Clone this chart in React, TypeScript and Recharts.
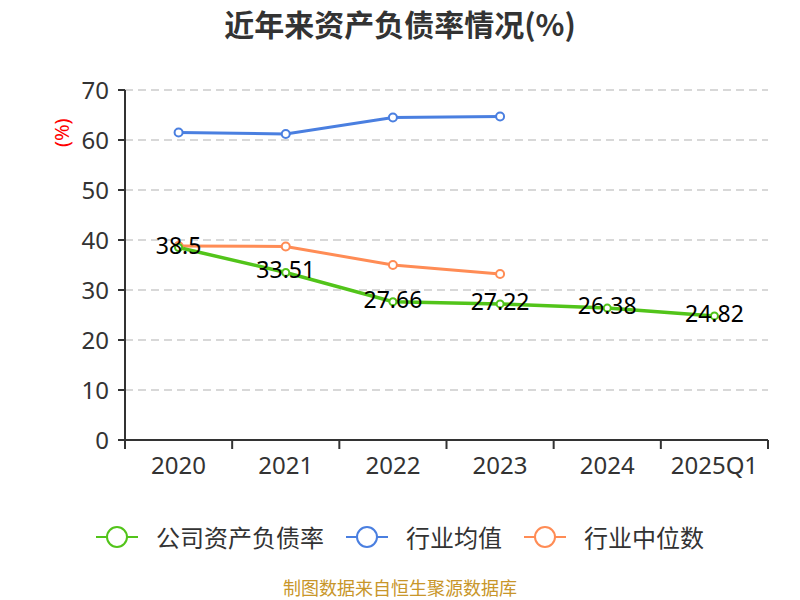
import React from 'react';
import { LineChart, Line, XAxis, YAxis, CartesianGrid, LabelList } from 'recharts';

const categories = ['2020', '2021', '2022', '2023', '2024', '2025Q1'];
const companyRatio = [38.5, 33.51, 27.66, 27.22, 26.38, 24.82];
const industryAvg: (number | null)[] = [61.5, 61.2, 64.5, 64.7, null, null];
const industryMedian: (number | null)[] = [38.8, 38.7, 35.0, 33.2, null, null];
const yTicks = [0, 10, 20, 30, 40, 50, 60, 70];

const data = categories.map((c, i) => ({
  name: c,
  company: companyRatio[i],
  avg: industryAvg[i],
  median: industryMedian[i],
}));

const GREEN = '#52c41a';
const BLUE = '#4a7fe0';
const ORANGE = '#ff8c55';
const NUM_FONT = '"Noto Sans", "Open Sans", sans-serif';
const CJK_FONT = '"Noto Sans CJK SC", sans-serif';

const BAND = (768 - 125) / 6;

const XTick = (props: any) => {
  const { x, y, payload } = props;
  const isLast = payload.value === categories[categories.length - 1];
  return (
    <g>
      <line x1={x - BAND / 2} x2={x - BAND / 2} y1={y - 8} y2={y + 1} stroke="#333" strokeWidth={2} />
      {isLast && <line x1={x + BAND / 2} x2={x + BAND / 2} y1={y - 8} y2={y + 1} stroke="#333" strokeWidth={2} />}
      <text x={x} y={y + 26} textAnchor="middle" fill="#333" fontSize={24} fontFamily={NUM_FONT}>
        {payload.value}
      </text>
    </g>
  );
};

const ValueLabel = (props: any) => {
  const { x, y, value } = props;
  return (
    <text x={x} y={y} dy={6} textAnchor="middle" fill="#000" fontSize={23} fontFamily={NUM_FONT}>
      {value}
    </text>
  );
};

const LegendIcon = ({ color }: { color: string }) => (
  <svg width={42} height={24} style={{ verticalAlign: 'middle' }}>
    <line x1={0} x2={42} y1={12} y2={12} stroke={color} strokeWidth={2} />
    <circle cx={21} cy={12} r={10} fill="#fff" stroke={color} strokeWidth={2} />
  </svg>
);

export default function App() {
  return (
    <div style={{ position: 'absolute', left: 0, top: 0, width: 800, height: 600, background: '#fff' }}>
      <div
        style={{
          position: 'absolute', top: 1, left: 0, width: 800, textAlign: 'center',
          fontFamily: CJK_FONT, fontWeight: 'bold', fontSize: 30, color: '#333', lineHeight: '44px',
        }}
      >
        近年来资产负债率情况(%)
      </div>
      <LineChart width={800} height={600} data={data} margin={{ top: 90, right: 32, bottom: 120, left: 0 }}>
        <CartesianGrid vertical={false} stroke="#ccc" strokeDasharray="8 5" strokeWidth={1.5} />
        <XAxis
          dataKey="name"
          height={40}
          stroke="#333"
          strokeWidth={2}
          tickLine={false}
          tick={<XTick />}
          interval={0}
          padding={{ left: BAND / 2, right: BAND / 2 }}
        />
        <YAxis
          width={125}
          domain={[0, 70]}
          ticks={yTicks}
          interval={0}
          stroke="#333"
          strokeWidth={2}
          tickSize={7}
          tickMargin={9}
          tick={{ fill: '#333', fontSize: 24, fontFamily: NUM_FONT }}
          label={{
            value: '(%)', angle: -90, position: 'insideTopLeft', fill: 'red', fontSize: 20,
            fontFamily: NUM_FONT, dx: 50, dy: 52,
          }}
        />
        <Line
          dataKey="avg"
          stroke={BLUE}
          strokeWidth={3}
          dot={{ r: 4, fill: '#fff', stroke: BLUE, strokeWidth: 2 }}
          isAnimationActive={false}
          connectNulls={false}
        />
        <Line
          dataKey="median"
          stroke={ORANGE}
          strokeWidth={3}
          dot={{ r: 4, fill: '#fff', stroke: ORANGE, strokeWidth: 2 }}
          isAnimationActive={false}
          connectNulls={false}
        />
        <Line
          dataKey="company"
          stroke={GREEN}
          strokeWidth={3.5}
          dot={{ r: 3.5, fill: '#fff', stroke: GREEN, strokeWidth: 2 }}
          isAnimationActive={false}
        >
          <LabelList dataKey="company" content={<ValueLabel />} />
        </Line>
      </LineChart>
      <div
        style={{
          position: 'absolute', top: 519, left: 0, width: 800, display: 'flex', justifyContent: 'center',
          alignItems: 'center', fontFamily: CJK_FONT, fontSize: 24, color: '#333', whiteSpace: 'nowrap',
        }}
      >
        <span style={{ display: 'inline-flex', alignItems: 'center', marginRight: 22 }}>
          <LegendIcon color={GREEN} />
          <span style={{ marginLeft: 18 }}>公司资产负债率</span>
        </span>
        <span style={{ display: 'inline-flex', alignItems: 'center', marginRight: 22 }}>
          <LegendIcon color={BLUE} />
          <span style={{ marginLeft: 18 }}>行业均值</span>
        </span>
        <span style={{ display: 'inline-flex', alignItems: 'center' }}>
          <LegendIcon color={ORANGE} />
          <span style={{ marginLeft: 18 }}>行业中位数</span>
        </span>
      </div>
      <div
        style={{
          position: 'absolute', top: 576, left: 0, width: 800, textAlign: 'center',
          fontFamily: CJK_FONT, fontSize: 18, color: '#c8962a', lineHeight: '22px',
        }}
      >
        制图数据来自恒生聚源数据库
      </div>
    </div>
  );
}
